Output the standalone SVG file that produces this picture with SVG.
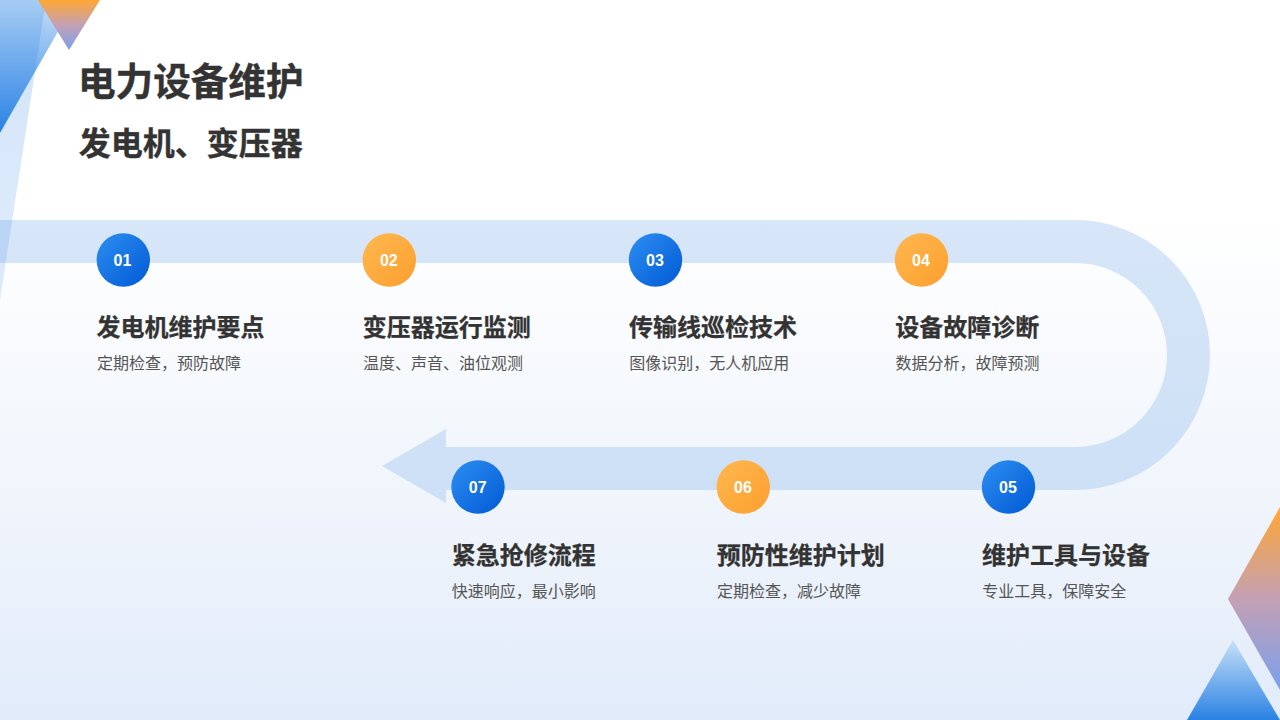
<svg xmlns="http://www.w3.org/2000/svg" width="1280" height="720" viewBox="0 0 1280 720">
<style>
.num{font:bold 16px "Liberation Sans",Arial,sans-serif;fill:#fff;text-anchor:middle}
.t{font:bold 24px "Noto Sans CJK SC",sans-serif;fill:#333;stroke:#333;stroke-width:.25}
.d{font:16px "Noto Sans CJK SC",sans-serif;fill:#555}
.h{font:bold 37.6px "Noto Sans CJK SC",sans-serif;fill:#333;stroke:#333;stroke-width:.4}
.s{font:bold 32px "Noto Sans CJK SC",sans-serif;fill:#333;stroke:#333;stroke-width:.35}
</style>
<defs>
<linearGradient id="bg" x1="0" y1="0" x2="0" y2="1"><stop offset="0" stop-color="#fff"/><stop offset=".3" stop-color="#fff"/><stop offset=".8" stop-color="#ecf2fb"/><stop offset="1" stop-color="#e1ebfa"/></linearGradient>
<linearGradient id="blue" x1="0" y1="0" x2="1" y2="1"><stop offset="0" stop-color="#2e8ef2"/><stop offset="1" stop-color="#005ad4"/></linearGradient>
<linearGradient id="orange" x1="0" y1="0" x2="1" y2="1"><stop offset="0" stop-color="#ffb850"/><stop offset="1" stop-color="#fc9f2e"/></linearGradient>
<linearGradient id="track" gradientUnits="userSpaceOnUse" x1="0" y1="220" x2="0" y2="503"><stop offset="0" stop-color="#d7e6f8"/><stop offset="1" stop-color="#cde0f6"/></linearGradient>
<linearGradient id="tb" x1="0" y1="0" x2="0" y2="1"><stop offset="0" stop-color="#c8e0f8"/><stop offset="1" stop-color="#2a82e4"/></linearGradient>
<linearGradient id="to" x1="0" y1="0" x2="0" y2="1"><stop offset="0" stop-color="#ffa733"/><stop offset=".5" stop-color="#c4a0b4"/><stop offset="1" stop-color="#7ba0ec"/></linearGradient>
<linearGradient id="tl" x1="0" y1="0" x2="0" y2="1"><stop offset="0" stop-color="#2f83e4" stop-opacity=".22"/><stop offset="1" stop-color="#2f83e4" stop-opacity=".15"/></linearGradient>
</defs>
<rect width="1280" height="720" fill="url(#bg)"/>
<g id="connectors">
<path d="M0 241.500H1075A113.500 113.500 0 0 1 1075 468.500H446" fill="none" stroke="url(#track)" stroke-width="43"/>
<polygon points="446,429 446,503 382,466" fill="url(#track)"/>
</g>
<polygon points="0,0 76,0 0,133" fill="url(#tb)"/>
<polygon points="0,0 46,0 0,300" fill="url(#tl)"/>
<polygon points="38,0 100,0 69,50" fill="url(#to)"/>
<polygon points="1280,507 1228,599 1280,690" fill="url(#to)"/>
<polygon points="1233,640 1187,720 1280,720" fill="url(#tb)"/>
<g id="title"><text class="h" x="78" y="95">电力设备维护</text><text class="s" x="78.800" y="155">发电机、变压器</text></g>
<g id="node1"><circle cx="123.300" cy="260" r="26.700" fill="url(#blue)"/><text class="num" x="122.500" y="265.500">01</text><text class="t" x="96.500" y="336">发电机维护要点</text><text class="d" x="97" y="369">定期检查，预防故障</text></g>
<g id="node2"><circle cx="389.300" cy="260" r="26.700" fill="url(#orange)"/><text class="num" x="388.800" y="265.500">02</text><text class="t" x="362.700" y="336">变压器运行监测</text><text class="d" x="363" y="369">温度、声音、油位观测</text></g>
<g id="node3"><circle cx="655.500" cy="260" r="26.700" fill="url(#blue)"/><text class="num" x="655" y="265.500">03</text><text class="t" x="629" y="336">传输线巡检技术</text><text class="d" x="629.300" y="369">图像识别，无人机应用</text></g>
<g id="node4"><circle cx="921.500" cy="260" r="26.700" fill="url(#orange)"/><text class="num" x="921" y="265.500">04</text><text class="t" x="895.300" y="336">设备故障诊断</text><text class="d" x="895.500" y="369">数据分析，故障预测</text></g>
<g id="node5"><circle cx="1008.500" cy="487" r="26.700" fill="url(#blue)"/><text class="num" x="1008" y="492.500">05</text><text class="t" x="982" y="564">维护工具与设备</text><text class="d" x="982.300" y="597">专业工具，保障安全</text></g>
<g id="node6"><circle cx="743.300" cy="487" r="26.700" fill="url(#orange)"/><text class="num" x="743" y="492.500">06</text><text class="t" x="716.800" y="564">预防性维护计划</text><text class="d" x="717" y="597">定期检查，减少故障</text></g>
<g id="node7"><circle cx="478" cy="487" r="26.700" fill="url(#blue)"/><text class="num" x="477.700" y="492.500">07</text><text class="t" x="451.700" y="564">紧急抢修流程</text><text class="d" x="451.700" y="597">快速响应，最小影响</text></g>
</svg>
